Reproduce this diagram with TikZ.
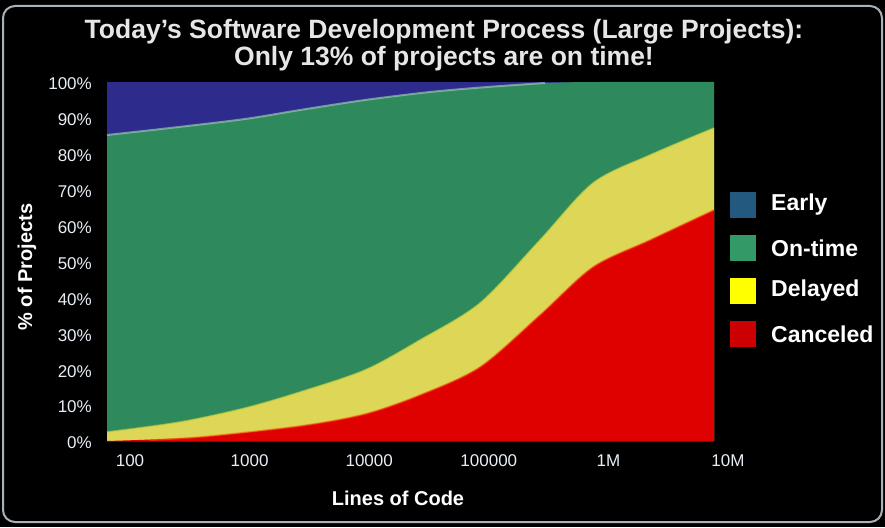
\documentclass[tikz,border=0pt]{standalone}
\usepackage{fontspec}
\setmainfont{Liberation Sans}
\definecolor{earlyblue}{HTML}{2D2B8C}
\definecolor{ontimegreen}{HTML}{2E8A5C}
\definecolor{delayedyellow}{HTML}{DDD657}
\definecolor{canceledred}{HTML}{DF0000}
\definecolor{earlyleg}{HTML}{23597F}
\definecolor{ontimeleg}{HTML}{339966}
\definecolor{delayedleg}{HTML}{FFFF00}
\definecolor{canceledleg}{HTML}{CC0000}
\definecolor{ticktext}{HTML}{E8EEF6}
\definecolor{titlegray}{HTML}{E6E6E6}
\definecolor{framegray}{HTML}{A9B1B9}
\begin{document}
\begin{tikzpicture}[x=1pt,y=-1pt,
  tick/.style={text=ticktext,font=\fontsize{17}{17}\selectfont,inner sep=0pt},
  axistitle/.style={text=white,font=\fontsize{20}{20}\selectfont\bfseries},
  legendbox/.style={minimum size=26pt,inner sep=0pt},
  legendtext/.style={text=white,font=\fontsize{23}{23}\selectfont\bfseries,anchor=west,inner sep=0pt}]
\useasboundingbox (0,0) rectangle (885,527);
\fill[black] (0,0) rectangle (885,527);
\draw[framegray,line width=2pt,rounded corners=12pt] (3,6) rectangle (882,522);

\node[text=titlegray,font=\fontsize{26.5}{27}\selectfont\bfseries,align=center] (title) at (444,45)
  {Today’s Software Development Process (Large Projects):\\Only 13\% of projects are on time!};

\fill[earlyblue] (107,82) rectangle (714,441);
\fill[ontimegreen] plot[smooth] coordinates {(107,135) (170,128) (245,119) (300,110) (365,100) (430,92) (487,87) (545,83) (600,82) (714,82)}
  -- (714,441) -- (107,441) -- cycle;
\fill[delayedyellow] plot[smooth,tension=0.5] coordinates {(107,432) (180,422) (245,408) (300,392) (365,370) (420,340) (480,303) (540,240) (593,183) (650,155) (714,128)}
  -- (714,441) -- (107,441) -- cycle;
\fill[canceledred] plot[smooth,tension=0.5] coordinates {(107,441) (200,437) (300,426) (365,414) (420,395) (480,367) (540,315) (593,267) (650,240) (714,210)}
  -- (714,441) -- (107,441) -- cycle;
\draw[white!60!ontimegreen,line width=2pt,opacity=0.6] plot[smooth] coordinates {(107,135) (170,128) (245,119) (300,110) (365,100) (430,92) (487,87) (545,83)};
\draw[yellow!70!ontimegreen,line width=1.5pt,opacity=0.6] plot[smooth,tension=0.5] coordinates {(107,432) (180,422) (245,408) (300,392) (365,370) (420,340) (480,303) (540,240) (593,183) (650,155) (714,128)};
\draw[orange!80!canceledred,line width=1.5pt,opacity=0.6] plot[smooth,tension=0.5] coordinates {(150,440) (200,437) (300,426) (365,414) (420,395) (480,367) (540,315) (593,267) (650,240) (714,210)};

\foreach \p in {0,10,...,100}
  \node[tick,anchor=east] (y\p) at (92,{443-3.59*\p}) {\p\%};
\foreach \lbl [count=\i] in {100,1000,10000,100000,1M,10M}
  \node[tick] (x\i) at ({130+119.6*(\i-1)},461) {\lbl};

\node[axistitle,rotate=90] (ylabel) at (27,267) {\% of Projects};
\node[axistitle] (xlabel) at (398,498) {Lines of Code};

\foreach \name/\col [count=\i] in {Early/earlyleg,On-time/ontimeleg,Delayed/delayedleg,Canceled/canceledleg}{
  \node[legendbox,fill=\col] (box\i) at (743,{162+43*\i}) {};
  \node[legendtext] (leg\i) at (771,{162+43*\i}) {\name};
}
\end{tikzpicture}
\end{document}
